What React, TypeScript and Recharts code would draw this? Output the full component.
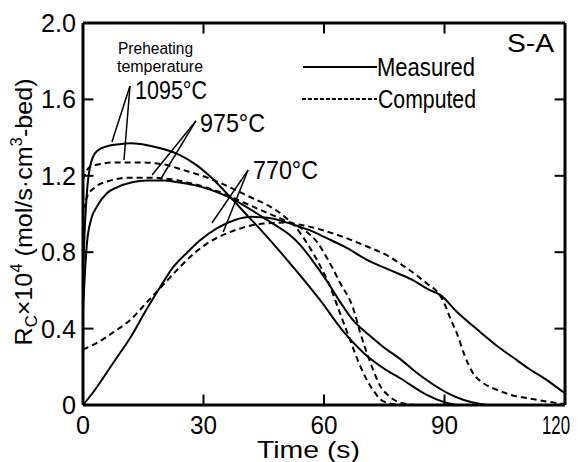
import React from "react";
import { LineChart, Line, XAxis, YAxis, ReferenceLine } from "recharts";

// ---- data (time in s, Rc x 1e4) ----
const t1095Measured = [0, 0.5, 1, 2, 3.5, 6, 9, 12, 16, 20, 24, 28, 32, 36.6, 41, 45, 50.8, 54, 59, 65, 70, 75, 79, 85, 90, 93];
const v1095Measured = [0.7, 0.95, 1.12, 1.27, 1.33, 1.355, 1.365, 1.37, 1.36, 1.34, 1.31, 1.26, 1.19, 1.09, 0.99, 0.9, 0.76, 0.68, 0.55, 0.38, 0.27, 0.19, 0.14, 0.06, 0.015, 0];

const t975Measured = [0, 0.5, 1, 2, 3.5, 6, 8.5, 12, 16, 20, 24, 28, 32, 35, 38, 42, 45, 48, 51.5, 54, 57, 60.7, 64, 67, 71, 75, 79, 83, 87, 91, 95, 99, 101];
const v975Measured = [0.5, 0.7, 0.85, 0.97, 1.04, 1.11, 1.14, 1.165, 1.175, 1.175, 1.165, 1.15, 1.125, 1.1, 1.07, 1.02, 0.98, 0.94, 0.89, 0.84, 0.76, 0.65, 0.54, 0.45, 0.37, 0.3, 0.24, 0.17, 0.11, 0.06, 0.025, 0.005, 0];

const t770Measured = [0, 3, 7.5, 12, 15.8, 19, 22.4, 26, 29, 33.3, 38, 42, 46, 50, 53, 57, 60, 65, 70.7, 76, 82, 86, 89, 93, 99, 103, 107, 111, 115.5, 120];
const v770Measured = [0, 0.08, 0.22, 0.36, 0.5, 0.61, 0.72, 0.8, 0.86, 0.925, 0.97, 0.985, 0.98, 0.96, 0.94, 0.91, 0.88, 0.83, 0.76, 0.71, 0.655, 0.605, 0.575, 0.49, 0.38, 0.31, 0.25, 0.19, 0.13, 0.06];

const t1095Computed = [0, 1, 2, 4, 7, 10, 14, 20, 25, 31, 35, 38, 42, 46.5, 50, 53, 56, 59, 61.5, 64, 66.5, 68.5, 70.7, 72.5, 74, 76, 78, 80];
const v1095Computed = [1.18, 1.23, 1.25, 1.26, 1.27, 1.27, 1.27, 1.26, 1.23, 1.19, 1.155, 1.125, 1.085, 1.04, 0.99, 0.93, 0.84, 0.73, 0.62, 0.48, 0.34, 0.23, 0.13, 0.07, 0.03, 0.01, 0.003, 0];

const t975Computed = [0, 1, 3, 6, 11.7, 17, 22.4, 28, 34, 40, 46.5, 51, 54.8, 58, 61, 64, 67.2, 69, 70.7, 72.5, 74, 76, 78, 80, 83];
const v975Computed = [1.02, 1.09, 1.14, 1.17, 1.19, 1.19, 1.18, 1.155, 1.115, 1.06, 1.0, 0.96, 0.92, 0.86, 0.76, 0.64, 0.51, 0.38, 0.27, 0.17, 0.1, 0.05, 0.02, 0.008, 0];

const t770Computed = [0, 3, 7.5, 12, 16, 20, 24, 28, 32, 36, 40, 45, 50, 55, 62, 70.7, 76, 79, 83, 86, 88.5, 90, 91.5, 93, 95, 97, 100, 103, 107, 111, 115, 120];
const v770Computed = [0.29, 0.32, 0.38, 0.45, 0.54, 0.63, 0.72, 0.8, 0.86, 0.9, 0.93, 0.95, 0.955, 0.94, 0.9, 0.83, 0.78, 0.74, 0.68, 0.63, 0.585, 0.53, 0.45, 0.38, 0.26, 0.17, 0.11, 0.08, 0.05, 0.035, 0.02, 0.005];

const xTicks = [0, 30, 60, 90, 120];
const xTickLabels = ["0", "30", "60", "90", "120"];
const yTicks = [0, 0.4, 0.8, 1.2, 1.6, 2.0];
const yTickLabels = ["0", "0.4", "0.8", "1.2", "1.6", "2.0"];

const toPoints = (ts: number[], vs: number[]) => ts.map((t, i) => ({ t, v: vs[i] }));

const series = [
  { name: "1095 measured", data: toPoints(t1095Measured, v1095Measured), dashed: false },
  { name: "975 measured", data: toPoints(t975Measured, v975Measured), dashed: false },
  { name: "770 measured", data: toPoints(t770Measured, v770Measured), dashed: false },
  { name: "1095 computed", data: toPoints(t1095Computed, v1095Computed), dashed: true },
  { name: "975 computed", data: toPoints(t975Computed, v975Computed), dashed: true },
  { name: "770 computed", data: toPoints(t770Computed, v770Computed), dashed: true },
];

// leader lines of the annotations, in data coordinates
const leaders = [
  [{ x: 11.7, y: 1.67 }, { x: 7.2, y: 1.377 }],
  [{ x: 11.7, y: 1.67 }, { x: 10.2, y: 1.283 }],
  [{ x: 28.1, y: 1.487 }, { x: 17.2, y: 1.204 }],
  [{ x: 28.1, y: 1.487 }, { x: 19.2, y: 1.178 }],
  [{ x: 41.1, y: 1.23 }, { x: 32.1, y: 0.953 }],
  [{ x: 41.1, y: 1.23 }, { x: 34.9, y: 0.906 }],
];

const FONT = "'Liberation Sans', Arial, sans-serif";
const X_DOMAIN: [number, number] = [0, 120];
const Y_DOMAIN: [number, number] = [0, 2];
// inward tick lengths in data units (about 10px)
const X_TICK_LEN = 0.055;
const Y_TICK_LEN = 2.6;

const labelWidth = (s: string) => s.length === 1 ? 14 : s.length === 2 ? 27 : s.indexOf(".") >= 0 ? 35 : 28;

const XTick = (props: any) => {
  const { x, y, payload } = props;
  const idx = xTicks.indexOf(payload.value);
  const lab = idx >= 0 ? xTickLabels[idx] : String(payload.value);
  const last = payload.value === X_DOMAIN[1];
  return (
    <text x={last ? x + 5 : x} y={y + 29} textAnchor={last ? "end" : "middle"} fontSize={25} fontFamily={FONT} fill="#000"
      textLength={labelWidth(lab)} lengthAdjust="spacingAndGlyphs">
      {lab}
    </text>
  );
};

const YTick = (props: any) => {
  const { x, y, payload } = props;
  const idx = yTicks.indexOf(payload.value);
  const lab = idx >= 0 ? yTickLabels[idx] : String(payload.value);
  return (
    <text x={x - 7} y={y + 9} textAnchor="end" fontSize={25} fontFamily={FONT} fill="#000"
      textLength={labelWidth(lab)} lengthAdjust="spacingAndGlyphs">
      {lab}
    </text>
  );
};

export default function App() {
  const W = 571;
  const H = 454;
  const innerX = xTicks.filter((t) => t > X_DOMAIN[0] && t < X_DOMAIN[1]);
  const innerY = yTicks.filter((v) => v > Y_DOMAIN[0] && v < Y_DOMAIN[1]);
  return (
    <div style={{ position: "relative", width: W - 8, height: H, background: "#fff" }}>
      <div style={{ position: "absolute", left: 0, top: 0, width: W, height: H }}>
        <LineChart width={W} height={H} margin={{ top: 14, right: 13, bottom: 56, left: 74 }}>
          <XAxis
            xAxisId="b"
            type="number"
            dataKey="t"
            domain={X_DOMAIN}
            ticks={xTicks}
            orientation="bottom"
            height={1}
            tickSize={0}
            tickMargin={0}
            tick={<XTick />}
            axisLine={{ stroke: "#000", strokeWidth: 3 }}
            tickLine={false}
            allowDataOverflow
            interval={0}
          />
          <XAxis
            xAxisId="t"
            type="number"
            dataKey="t"
            domain={X_DOMAIN}
            ticks={xTicks}
            orientation="top"
            height={1}
            tick={false}
            axisLine={{ stroke: "#000", strokeWidth: 3 }}
            tickLine={false}
            allowDataOverflow
          />
          <YAxis
            yAxisId="l"
            type="number"
            domain={Y_DOMAIN}
            ticks={yTicks}
            orientation="left"
            width={1}
            tickSize={0}
            tickMargin={0}
            tick={<YTick />}
            axisLine={{ stroke: "#000", strokeWidth: 3 }}
            tickLine={false}
            allowDataOverflow
            interval={0}
          />
          <YAxis
            yAxisId="r"
            type="number"
            domain={Y_DOMAIN}
            ticks={yTicks}
            orientation="right"
            width={1}
            tick={false}
            axisLine={{ stroke: "#000", strokeWidth: 3 }}
            tickLine={false}
            allowDataOverflow
          />
          {innerX.map((t) => (
            <ReferenceLine key={"xb" + t} xAxisId="b" yAxisId="l" stroke="#000" strokeWidth={2} ifOverflow="visible"
              segment={[{ x: t, y: Y_DOMAIN[0] }, { x: t, y: Y_DOMAIN[0] + X_TICK_LEN }]} />
          ))}
          {innerX.map((t) => (
            <ReferenceLine key={"xt" + t} xAxisId="b" yAxisId="l" stroke="#000" strokeWidth={2} ifOverflow="visible"
              segment={[{ x: t, y: Y_DOMAIN[1] }, { x: t, y: Y_DOMAIN[1] - X_TICK_LEN }]} />
          ))}
          {innerY.map((v) => (
            <ReferenceLine key={"yl" + v} xAxisId="b" yAxisId="l" stroke="#000" strokeWidth={2} ifOverflow="visible"
              segment={[{ x: X_DOMAIN[0], y: v }, { x: X_DOMAIN[0] + Y_TICK_LEN, y: v }]} />
          ))}
          {innerY.map((v) => (
            <ReferenceLine key={"yr" + v} xAxisId="b" yAxisId="l" stroke="#000" strokeWidth={2} ifOverflow="visible"
              segment={[{ x: X_DOMAIN[1], y: v }, { x: X_DOMAIN[1] - Y_TICK_LEN, y: v }]} />
          ))}
          {series.map((s) => (
            <Line
              key={s.name}
              xAxisId="b"
              yAxisId="l"
              data={s.data}
              dataKey="v"
              type="monotone"
              stroke="#000"
              strokeWidth={2}
              strokeDasharray={s.dashed ? "6 4" : undefined}
              dot={false}
              activeDot={false}
              isAnimationActive={false}
            />
          ))}
          {leaders.map((seg, i) => (
            <ReferenceLine key={"ld" + i} xAxisId="b" yAxisId="l" segment={seg} stroke="#000" strokeWidth={1.5} />
          ))}
          <ReferenceLine xAxisId="b" yAxisId="l" segment={[{ x: 54.8, y: 1.77 }, { x: 73.2, y: 1.77 }]} stroke="#000" strokeWidth={2} />
          <ReferenceLine xAxisId="b" yAxisId="l" segment={[{ x: 54.5, y: 1.602 }, { x: 73.2, y: 1.602 }]} stroke="#000" strokeWidth={1.8} strokeDasharray="4 2" />
        </LineChart>
        <svg
          width={W}
          height={H}
          style={{ position: "absolute", left: 0, top: 0, pointerEvents: "none" }}
          fontFamily={FONT}
        >
          <text x={499} y={44} fontSize={25} textLength={47} lengthAdjust="spacingAndGlyphs">S-A</text>
          <text x={369} y={68} fontSize={25} textLength={98} lengthAdjust="spacingAndGlyphs">Measured</text>
          <text x={370} y={100} fontSize={25} textLength={98} lengthAdjust="spacingAndGlyphs">Computed</text>
          <text x={110} y={46} fontSize={16} textLength={75} lengthAdjust="spacingAndGlyphs">Preheating</text>
          <text x={109} y={64} fontSize={16} textLength={86} lengthAdjust="spacingAndGlyphs">temperature</text>
          <text x={127} y={91} fontSize={25} textLength={72} lengthAdjust="spacingAndGlyphs">1095°C</text>
          <text x={192} y={124} fontSize={25} textLength={65} lengthAdjust="spacingAndGlyphs">975°C</text>
          <text x={245} y={171} fontSize={25} textLength={65} lengthAdjust="spacingAndGlyphs">770°C</text>
          <text x={249} y={450} fontSize={24} textLength={103} lengthAdjust="spacingAndGlyphs">Time (s)</text>
          <g transform="translate(24,204) rotate(-90)">
            <text x={0} y={0} textAnchor="middle" fontSize={24} textLength={267} lengthAdjust="spacingAndGlyphs">
              R<tspan fontSize={16} dy={5}>C</tspan>
              <tspan dy={-5}>×10</tspan>
              <tspan fontSize={16} dy={-10}>4</tspan>
              <tspan dy={10}> (mol/s·cm</tspan>
              <tspan fontSize={16} dy={-10}>3</tspan>
              <tspan dy={10}>-bed)</tspan>
            </text>
          </g>
        </svg>
      </div>
    </div>
  );
}
